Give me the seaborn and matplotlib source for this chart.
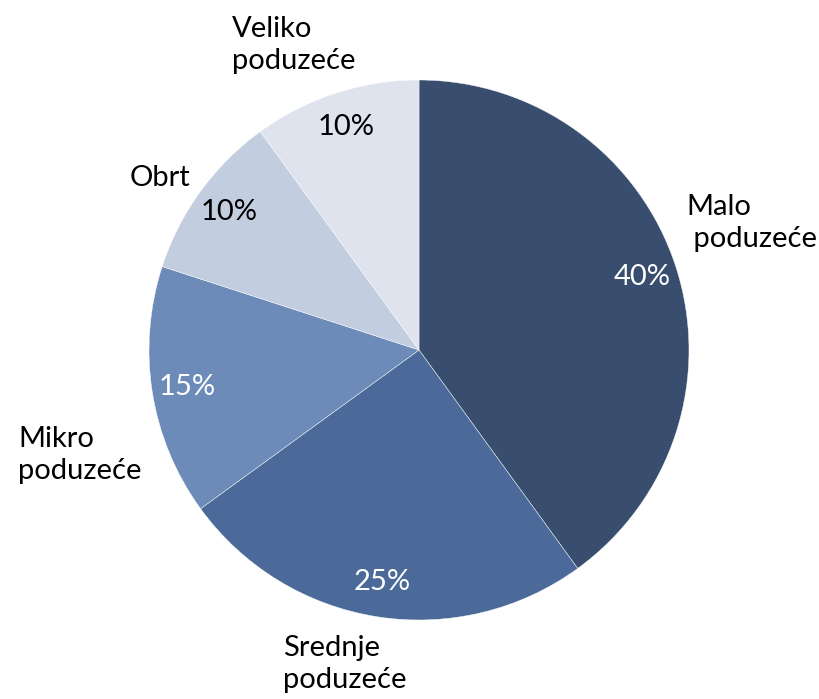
import matplotlib
matplotlib.use("Agg")
import matplotlib.pyplot as plt
import seaborn as sns

# Data
categories = ["Malo\n poduzeće", "Srednje\npoduzeće", "Mikro\npoduzeće", "Obrt", "Veliko\npoduzeće"]
shares = [40, 25, 15, 10, 10]
colors = ["#394E6E", "#4B6A99", "#6C8BB8", "#C3CDE0", "#DEE3EE"]
pct_colors = ["white", "white", "white", "black", "black"]

# Label anchors in pixels (left edge, vertical centre of block)
label_pos = [(686, 223), (283, 664), (18, 455), (130, 178), (232, 45)]

sns.set_theme(style="white")
plt.rcParams['font.family'] = ['Lato', 'DejaVu Sans']

W, H = 819, 699
fig = plt.figure(figsize=(W / 100, H / 100), dpi=100)
ax = fig.add_axes([0, 0, 1, 1])

wedges, texts, autotexts = ax.pie(
    shares,
    colors=colors,
    startangle=90,
    counterclock=False,
    center=(419, H - 350),
    radius=270,
    autopct='%d%%',
    pctdistance=0.87,
    wedgeprops=dict(edgecolor="white", linewidth=0.3),
    textprops=dict(fontsize=21),
)
for t, c in zip(autotexts, pct_colors):
    t.set_color(c)

for name, (x, y) in zip(categories, label_pos):
    ax.text(x, H - y, name, ha='left', va='center', fontsize=21,
            linespacing=1.25, color='black')

ax.set_xlim(0, W)
ax.set_ylim(0, H)
ax.set_aspect('equal')
ax.set_axis_off()

plt.savefig("out.png", dpi=100)
plt.close()
